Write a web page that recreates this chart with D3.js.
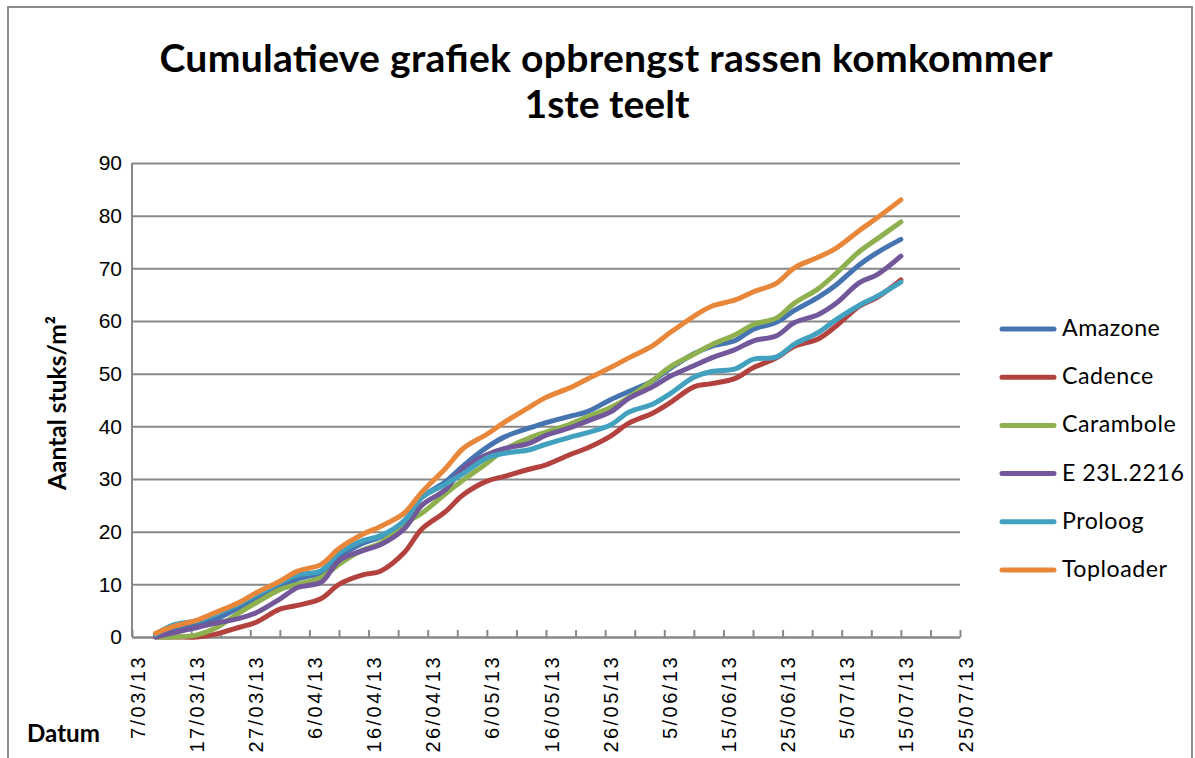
<!DOCTYPE html>
<html>
<head>
<meta charset="utf-8">
<script src="https://cdn.jsdelivr.net/npm/d3@7"></script>
<style>
  body { margin: 0; background: #fff; }
  svg { display: block; font-family: Lato, "Open Sans", sans-serif; }
</style>
</head>
<body>
<svg id="chart" width="1195" height="758"></svg>
<script>
// harvest dates (Monday / Thursday picks)
const dates = ["11/03/2013","14/03/2013","18/03/2013","21/03/2013","25/03/2013","28/03/2013",
  "1/04/2013","4/04/2013","8/04/2013","11/04/2013","15/04/2013","18/04/2013","22/04/2013","25/04/2013","29/04/2013",
  "2/05/2013","6/05/2013","9/05/2013","13/05/2013","16/05/2013","20/05/2013","23/05/2013","27/05/2013","30/05/2013",
  "3/06/2013","6/06/2013","10/06/2013","13/06/2013","17/06/2013","20/06/2013","24/06/2013","27/06/2013",
  "1/07/2013","4/07/2013","8/07/2013","11/07/2013","15/07/2013"]

// cumulative yield, pieces per m2
const amazone   = [0.3,1.2,2.4,3.3,5.5,7.3,9.6,11.0,12.3,15.2,17.8,19.0,22.0,26.5,29.5,32.5,36.0,38.0,39.6,40.7,41.9,42.8,45.1,46.6,48.6,51.0,53.8,55.2,56.3,58.4,59.8,62.0,64.5,66.8,70.7,73.0,75.5]
const cadence   = [0,0,0,0.5,1.8,2.8,5.3,6.0,7.3,10.0,11.8,12.5,16.0,20.5,23.8,27.0,29.6,30.5,31.8,32.7,34.6,35.9,38.2,40.6,42.5,44.5,47.5,48.1,49.1,51.1,53.0,55.2,56.6,59.0,62.8,64.5,67.8]
const carambole = [0,0,0.4,1.6,4.5,6.5,9.0,10.0,11.3,13.8,16.5,17.8,21.5,23.5,27.2,29.8,33.0,35.6,37.7,38.9,40.4,41.8,43.6,45.5,48.7,51.3,53.7,55.5,57.4,59.3,60.6,63.4,66.1,69.0,73.2,75.6,78.8]
const e23l2216  = [0,0.8,1.8,2.6,3.5,4.6,7.2,9.4,10.4,14.5,16.4,17.5,20.5,25.0,28.0,32.0,34.6,35.8,36.7,38.3,39.7,41.0,42.8,45.3,47.5,49.5,51.5,53.0,54.6,56.2,57.2,59.7,61.2,63.3,67.3,68.8,72.3]
const proloog   = [0.5,2.3,3.1,4.3,6.2,8.0,10.3,11.8,12.6,15.9,18.3,19.2,22.0,26.5,29.0,31.0,34.0,34.9,35.5,36.6,37.9,38.8,40.3,42.7,44.2,46.2,49.3,50.4,50.9,52.7,53.2,55.6,57.8,60.2,63.0,64.7,67.4]
const toploader = [0.7,2.0,3.2,4.6,6.5,8.4,10.6,12.5,13.8,16.8,19.5,21.0,23.5,27.5,32.0,35.8,38.5,40.8,43.5,45.5,47.3,49.0,51.2,53.0,55.3,57.8,60.9,62.8,64.0,65.5,67.2,70.1,72.1,73.8,77.2,79.6,83.0]

const seriesNames = ["Amazone", "Cadence", "Carambole", "E 23L.2216", "Proloog", "Toploader"]
const seriesValues = [amazone, cadence, carambole, e23l2216, proloog, toploader]
const colors = ["#4674b0", "#b3423f", "#8eb04f", "#72589a", "#42a1bf", "#e8873a"]

const yTicks = [0, 10, 20, 30, 40, 50, 60, 70, 80, 90]
const xStart = "7/03/2013"
const xEnd = "25/07/2013"

const parse = d3.timeParse("%d/%m/%Y")
const svg = d3.select("#chart")

// outer chart border
svg.append("rect")
  .attr("x", 8).attr("y", 7)
  .attr("width", 1184).attr("height", 770)
  .attr("fill", "none")
  .attr("stroke", "#8c8c8c")
  .attr("stroke-width", 2)

const plot = {left: 132, right: 960, top: 163, bottom: 637}

const x = d3.scaleTime()
  .domain([parse(xStart), parse(xEnd)])
  .range([plot.left, plot.right])
const y = d3.scaleLinear()
  .domain([0, 90])
  .range([plot.bottom, plot.top])

// gridlines + y labels
const yAxis = svg.append("g")
  .attr("transform", "translate(" + plot.left + ",0)")
  .call(d3.axisLeft(y).tickValues(yTicks).tickSize(-(plot.right - plot.left)).tickPadding(10).tickFormat(d3.format("d")))
yAxis.select(".domain").remove()
yAxis.selectAll("line").attr("stroke", "#888").attr("stroke-width", 2)
yAxis.selectAll("text").style("font-size", "21px").attr("fill", "#000")

svg.append("line")
  .attr("x1", plot.left).attr("x2", plot.left)
  .attr("y1", plot.top).attr("y2", plot.bottom)
  .attr("stroke", "#888").attr("stroke-width", 2)

// x axis, ticks every 5 days, label every 10
const tickDates = d3.timeDay.range(parse(xStart), d3.timeDay.offset(parse(xEnd), 1), 5)
const fmt = d3.timeFormat("%-d/%m/%y")
const xAxis = svg.append("g")
  .attr("transform", "translate(0," + plot.bottom + ")")
  .call(d3.axisBottom(x).tickValues(tickDates).tickSizeInner(-7).tickSizeOuter(0)
    .tickFormat((d, i) => i % 2 == 0 ? fmt(d) : ""))
xAxis.select(".domain").attr("stroke", "#888").attr("stroke-width", 2)
xAxis.selectAll("line").attr("stroke", "#888").attr("stroke-width", 2)
const xLabels = xAxis.selectAll("text")
  .attr("transform", "rotate(-90)")
  .attr("x", -18).attr("y", 5).attr("dy", "0.35em")
  .style("text-anchor", "end")
  .style("font-size", "20px")
  .attr("fill", "#000")
// widen the spacing so the first label is as long as in the original
{
  const first = xLabels.nodes()[0]
  const len = first.getComputedTextLength()
  const ls = Math.max(0, (84 - len) / first.textContent.length)
  xLabels.style("letter-spacing", ls + "px")
}

// series
const line = d3.line()
  .x((d, i) => x(parse(dates[i])))
  .y(d => y(d))
  .curve(d3.curveCatmullRom.alpha(0.5))

seriesValues.forEach((vals, k) => {
  svg.append("path")
    .datum(vals)
    .attr("d", line)
    .attr("fill", "none")
    .attr("stroke", colors[k])
    .attr("stroke-width", 5)
    .attr("stroke-linecap", "round")
    .attr("stroke-linejoin", "round")
})

// scale a text so it spans the given width
function fitWidth(sel, w) {
  const len = sel.node().getComputedTextLength()
  const fs = parseFloat(sel.style("font-size"))
  sel.style("font-size", (fs * w / len) + "px")
}

// legend
const legend = svg.append("g")
seriesNames.forEach((name, k) => {
  const cy = 329 + k * 48.2
  legend.append("line")
    .attr("x1", 1002).attr("x2", 1054)
    .attr("y1", cy).attr("y2", cy)
    .attr("stroke", colors[k])
    .attr("stroke-width", 5)
    .attr("stroke-linecap", "round")
  legend.append("text")
    .attr("x", 1062).attr("y", cy + 7)
    .style("font-size", "20px")
    .style("letter-spacing", "0.5px")
    .text(name)
})
{
  const probe = legend.selectAll("text").nodes()[2]
  const len = probe.getComputedTextLength()
  legend.selectAll("text").style("font-size", (20 * 115 / len) + "px")
}

// titles
const t1 = svg.append("text")
  .attr("x", 606).attr("y", 72)
  .style("text-anchor", "middle").style("font-weight", "bold").style("font-size", "34px")
  .text("Cumulatieve  grafiek  opbrengst  rassen  komkommer")
const t2 = svg.append("text")
  .attr("x", 607).attr("y", 118)
  .style("text-anchor", "middle").style("font-weight", "bold").style("font-size", "34px")
  .text("1ste teelt")
fitWidth(t2, 165)
t1.style("font-size", t2.style("font-size"))
  .attr("textLength", 893).attr("lengthAdjust", "spacing")

const yt = svg.append("text")
  .attr("transform", "translate(66,403) rotate(-90)")
  .style("text-anchor", "middle").style("font-weight", "bold").style("font-size", "20px")
  .text("Aantal stuks/m²")
fitWidth(yt, 174)

const dt = svg.append("text")
  .attr("x", 27).attr("y", 742)
  .style("font-weight", "bold").style("font-size", "20px")
  .text("Datum")
fitWidth(dt, 73)
</script>
</body>
</html>
